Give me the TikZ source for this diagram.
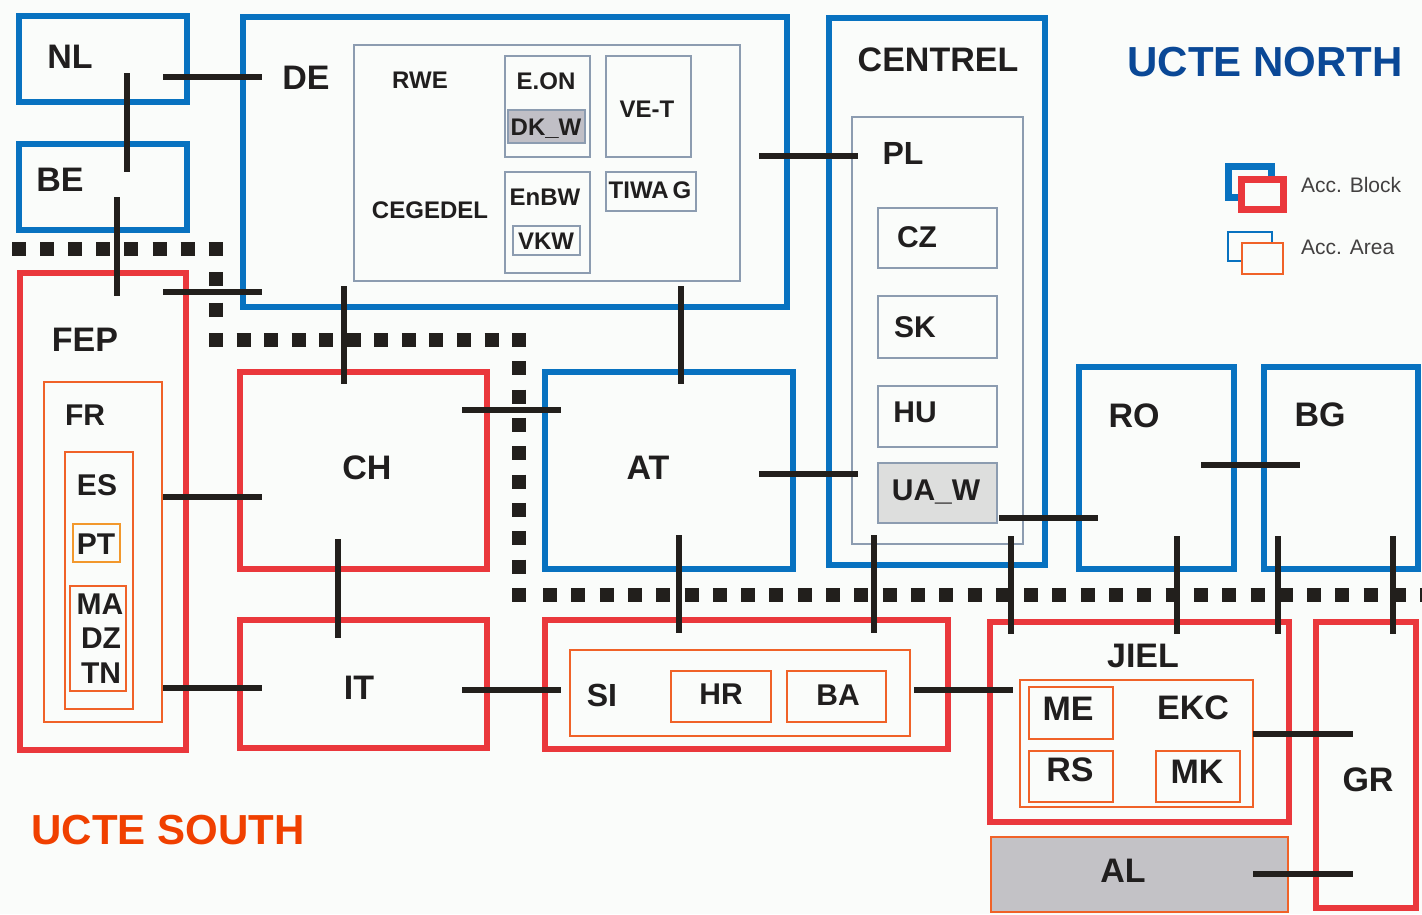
\documentclass[tikz,border=0pt]{standalone}
\usepackage{fontspec}
\setmainfont{Liberation Sans}
\usetikzlibrary{fit}
\definecolor{accblue}{RGB}{8,114,192}
\definecolor{accred}{RGB}{234,56,60}
\definecolor{areaorange}{RGB}{240,98,40}
\definecolor{ptorange}{RGB}{242,152,44}
\definecolor{subgray}{RGB}{140,156,176}
\definecolor{dkfill}{RGB}{192,191,198}
\definecolor{uafill}{RGB}{221,222,221}
\definecolor{alfill}{RGB}{195,194,198}
\definecolor{northblue}{RGB}{10,72,150}
\definecolor{southred}{RGB}{240,64,0}
\definecolor{tiecol}{RGB}{34,31,28}
\definecolor{txt}{RGB}{32,30,30}
\definecolor{bgcol}{RGB}{250,252,250}

\begin{document}
\begin{tikzpicture}[x=1pt, y=-1pt,
    blk/.style={draw=accblue, line width=6.5pt, inner sep=0pt},
    rblk/.style={draw=accred, line width=6.5pt, inner sep=0pt},
    area/.style={draw=areaorange, line width=1.5pt, inner sep=0pt},
    sub/.style={draw=subgray, line width=1.5pt, inner sep=0pt},
    tie/.style={draw=tiecol, line width=5.5pt},
    divide/.style={draw=tiecol, line width=14pt},
    lbl/.style={font=\bfseries\fontsize{34}{36}\selectfont, text=txt, inner sep=0pt, text depth=0pt},
    mlbl/.style={font=\bfseries\fontsize{30}{32}\selectfont, text=txt, inner sep=0pt, text depth=0pt},
    slbl/.style={font=\bfseries\fontsize{24}{26}\selectfont, text=txt, inner sep=0pt, text depth=0pt},
    keytext/.style={font=\fontsize{21}{23}\selectfont, text=txt!85, inner sep=0pt, text depth=0pt, anchor=west},
    title/.style={font=\bfseries\fontsize{42}{44}\selectfont, inner sep=0pt, text depth=0pt}
  ]
  \fill[bgcol] (0,0) rectangle (1422,914);
  \useasboundingbox (0,0) rectangle (1422,914);

  % north / south border
  \draw[divide, dash pattern=on 14pt off 14.1pt] (12,249) -- (223,249);
  \draw[divide, dash pattern=on 14pt off 16.3pt] (216,242) -- (216,347);
  \draw[divide, dash pattern=on 14pt off 13.55pt] (209,340) -- (526,340);
  \draw[divide, dash pattern=on 14pt off 14.33pt] (519,333) -- (519,602);
  \draw[divide, dash pattern=on 14pt off 14.3pt] (543,595) -- (1422,595);

  % UCTE north blocks
  \node[blk, fit={(19,16) (187,102)}] (NL) {};
  \node[lbl] (tNL) at (70,57) {NL};
  \node[blk, fit={(19,144) (187,230)}] (BE) {};
  \node[lbl] (tBE) at (60,180) {BE};
  \node[blk, fit={(243,17) (787,307)}] (DE) {};
  \node[lbl] (tDE) at (306,78) {DE};
  \node[sub, fit={(354,45) (740,281)}] (DEin) {};
  \node[slbl] (tRWE) at (420,80) {RWE};
  \node[slbl] (tCEG) at (430,210) {CEGEDEL};
  \node[sub, fit={(505,56) (590,157)}] (EON) {};
  \node[slbl] (tEON) at (546,81) {E.ON};
  \node[sub, fill=dkfill, fit={(508,110) (585,143)}] (DKW) {};
  \node[slbl] (tDKW) at (546,127) {DK\_W};
  \node[sub, fit={(606,56) (691,157)}] (VET) {};
  \node[slbl] (tVET) at (647,109) {VE-T};
  \node[sub, fit={(606,172) (696,211)}] (TIWAG) {};
  \node[slbl] (tTIWAG) at (650,190) {TIWA\,G};
  \node[sub, fit={(505,172) (590,273)}] (EnBW) {};
  \node[slbl] (tEnBW) at (545,197) {EnBW};
  \node[sub, fit={(513,226) (580,255)}] (VKW) {};
  \node[slbl] (tVKW) at (546,241) {VKW};

  \node[blk, fit={(829,18) (1045,565)}] (CENTREL) {};
  \node[lbl] (tCENTREL) at (938,60) {CENTREL};
  \node[sub, fit={(852,117) (1023,544)}] (PL) {};
  \node[mlbl, font=\bfseries\fontsize{32}{34}\selectfont] (tPL) at (903,153) {PL};
  \node[sub, fit={(878,208) (997,268)}] (CZ) {};
  \node[mlbl] (tCZ) at (917,237) {CZ};
  \node[sub, fit={(878,296) (997,358)}] (SK) {};
  \node[mlbl] (tSK) at (915,327) {SK};
  \node[sub, fit={(878,386) (997,447)}] (HU) {};
  \node[mlbl] (tHU) at (915,412) {HU};
  \node[sub, fill=uafill, fit={(878,463) (997,523)}] (UAW) {};
  \node[mlbl] (tUAW) at (936,490) {UA\_W};

  \node[blk, fit={(545,372) (793,569)}] (AT) {};
  \node[lbl] (tAT) at (648,468) {AT};
  \node[blk, fit={(1079,367) (1234,569)}] (RO) {};
  \node[lbl] (tRO) at (1134,416) {RO};
  \node[blk, fit={(1264,367) (1418,569)}] (BG) {};
  \node[lbl] (tBG) at (1320,415) {BG};

  % UCTE south blocks
  \node[rblk, fit={(20,273) (186,750)}] (FEP) {};
  \node[lbl] (tFEP) at (85,340) {FEP};
  \node[area, fit={(44,382) (162,722)}] (FR) {};
  \node[mlbl] (tFR) at (85,415) {FR};
  \node[area, fit={(65,452) (133,709)}] (ES) {};
  \node[mlbl] (tES) at (97,485) {ES};
  \node[area, draw=ptorange, fit={(73,524) (120,562)}] (PT) {};
  \node[mlbl] (tPT) at (96,544) {PT};
  \node[area, fit={(70,586) (126,691)}] (MA) {};
  \node[mlbl] (tMA) at (100,604) {MA};
  \node[mlbl] (tDZ) at (101,638) {DZ};
  \node[mlbl] (tTN) at (101,673) {TN};

  \node[rblk, fit={(240,372) (487,569)}] (CH) {};
  \node[lbl] (tCH) at (367,468) {CH};
  \node[rblk, fit={(240,620) (487,748)}] (IT) {};
  \node[lbl] (tIT) at (359,688) {IT};

  \node[rblk, fit={(545,620) (948,749)}] (SEblk) {};
  \node[area, fit={(570,650) (910,736)}] (SI) {};
  \node[lbl, font=\bfseries\fontsize{32}{34}\selectfont] (tSI) at (602,695) {SI};
  \node[area, fit={(671,671) (771,722)}] (HR) {};
  \node[mlbl] (tHR) at (721,694) {HR};
  \node[area, fit={(787,671) (886,722)}] (BA) {};
  \node[mlbl] (tBA) at (838,695) {BA};

  \node[rblk, fit={(990,622) (1289,822)}] (JIEL) {};
  \node[lbl] (tJIEL) at (1143,656) {JIEL};
  \node[area, fit={(1020,680) (1253,807)}] (EKC) {};
  \node[lbl] (tEKC) at (1193,708) {EKC};
  \node[area, fit={(1029,687) (1113,739)}] (ME) {};
  \node[lbl] (tME) at (1068,709) {ME};
  \node[area, fit={(1029,751) (1113,802)}] (RS) {};
  \node[lbl] (tRS) at (1070,770) {RS};
  \node[area, fit={(1156,751) (1240,802)}] (MK) {};
  \node[lbl] (tMK) at (1197,772) {MK};

  \node[rblk, fit={(1316,622) (1416,908)}] (GR) {};
  \node[lbl] (tGR) at (1368,780) {GR};
  \node[area, fill=alfill, fit={(991,837) (1288,912)}] (AL) {};
  \node[lbl] (tAL) at (1123,871) {AL};

  % titles and key
  \node[title, text=northblue] (north) at (1265,62) {UCTE NORTH};
  \node[title, text=southred] (south) at (168,830) {UCTE SOUTH};
  \node[blk, line width=7pt, fit={(1228,166) (1271,197)}] (keyB1) {};
  \node[rblk, line width=7pt, fill=bgcol, fit={(1241,179) (1283,209)}] (keyB2) {};
  \node[keytext] (tkeyB) at (1301,185) {Acc. Block};
  \node[sub, draw=accblue, line width=2pt, fit={(1228,232) (1272,261)}] (keyA1) {};
  \node[area, line width=2pt, fill=bgcol, fit={(1242,243) (1283,274)}] (keyA2) {};
  \node[keytext] (tkeyA) at (1301,247) {Acc. Area};

  % interconnection ties
  \coordinate (nlde1) at (163,77);     \coordinate (nlde2) at (262,77);
  \coordinate (nlbe1) at (127,73);     \coordinate (nlbe2) at (127,172);
  \coordinate (befep1) at (117,197);   \coordinate (befep2) at (117,296);
  \coordinate (fepde1) at (163,292);   \coordinate (fepde2) at (262,292);
  \coordinate (dech1) at (344,286);    \coordinate (dech2) at (344,384);
  \coordinate (deat1) at (681,286);    \coordinate (deat2) at (681,384);
  \coordinate (depl1) at (759,156);    \coordinate (depl2) at (858,156);
  \coordinate (chat1) at (462,410);    \coordinate (chat2) at (561,410);
  \coordinate (fepch1) at (163,497);   \coordinate (fepch2) at (262,497);
  \coordinate (fepit1) at (163,688);   \coordinate (fepit2) at (262,688);
  \coordinate (chit1) at (338,539);    \coordinate (chit2) at (338,638);
  \coordinate (itsi1) at (462,690);    \coordinate (itsi2) at (561,690);
  \coordinate (atpl1) at (759,474);    \coordinate (atpl2) at (858,474);
  \coordinate (atsi1) at (679,535);    \coordinate (atsi2) at (679,633);
  \coordinate (plsi1) at (874,535);    \coordinate (plsi2) at (874,633);
  \coordinate (sijiel1) at (914,690);  \coordinate (sijiel2) at (1013,690);
  \coordinate (plro1) at (999,518);    \coordinate (plro2) at (1098,518);
  \coordinate (pljiel1) at (1011,536); \coordinate (pljiel2) at (1011,634);
  \coordinate (robg1) at (1201,465);   \coordinate (robg2) at (1300,465);
  \coordinate (rojiel1) at (1177,536); \coordinate (rojiel2) at (1177,634);
  \coordinate (bgjiel1) at (1278,536); \coordinate (bgjiel2) at (1278,634);
  \coordinate (bggr1) at (1393,536);   \coordinate (bggr2) at (1393,634);
  \coordinate (jielgr1) at (1253,734); \coordinate (jielgr2) at (1353,734);
  \coordinate (algr1) at (1253,874);   \coordinate (algr2) at (1353,874);

  \draw[tie] (nlde1) -- (nlde2);
  \draw[tie] (nlbe1) -- (nlbe2);
  \draw[tie] (befep1) -- (befep2);
  \draw[tie] (fepde1) -- (fepde2);
  \draw[tie] (dech1) -- (dech2);
  \draw[tie] (deat1) -- (deat2);
  \draw[tie] (depl1) -- (depl2);
  \draw[tie] (chat1) -- (chat2);
  \draw[tie] (fepch1) -- (fepch2);
  \draw[tie] (fepit1) -- (fepit2);
  \draw[tie] (chit1) -- (chit2);
  \draw[tie] (itsi1) -- (itsi2);
  \draw[tie] (atpl1) -- (atpl2);
  \draw[tie] (atsi1) -- (atsi2);
  \draw[tie] (plsi1) -- (plsi2);
  \draw[tie] (sijiel1) -- (sijiel2);
  \draw[tie] (plro1) -- (plro2);
  \draw[tie] (pljiel1) -- (pljiel2);
  \draw[tie] (robg1) -- (robg2);
  \draw[tie] (rojiel1) -- (rojiel2);
  \draw[tie] (bgjiel1) -- (bgjiel2);
  \draw[tie] (bggr1) -- (bggr2);
  \draw[tie] (jielgr1) -- (jielgr2);
  \draw[tie] (algr1) -- (algr2);
\end{tikzpicture}
\end{document}
